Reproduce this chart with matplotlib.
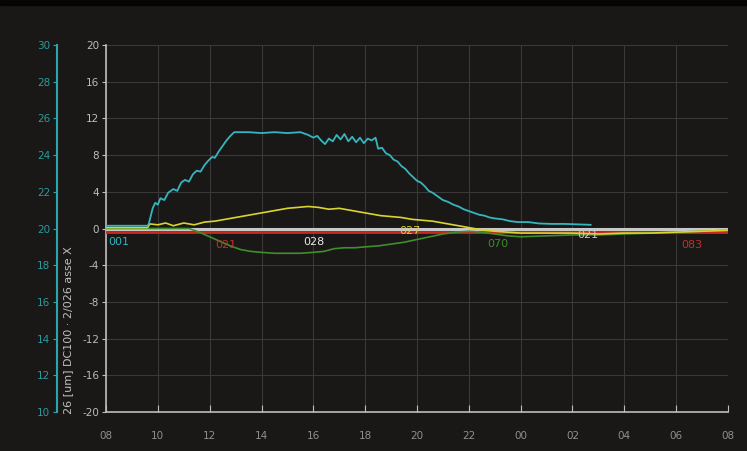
import matplotlib
matplotlib.use("Agg")
import matplotlib.pyplot as plt

plt.rcParams["axes.unicode_minus"] = False

# hours from 08:00
tick_labels = ["08", "10", "12", "14", "16", "18", "20", "22", "00", "02", "04", "06", "08"]
y_ticks = [-20, -16, -12, -8, -4, 0, 4, 8, 12, 16, 20]
sec_ticks = [10, 12, 14, 16, 18, 20, 22, 24, 26, 28, 30]

cyan_t = [0, 1.6, 1.65, 1.8, 1.9, 2.0, 2.1, 2.25, 2.4, 2.6, 2.75, 2.9, 3.05, 3.2, 3.35,
          3.5, 3.65, 3.8, 3.95, 4.1, 4.2, 4.35, 4.5, 4.65, 4.8, 4.95, 5.5, 6.0, 6.5,
          7.0, 7.5, 7.8, 8.0, 8.15, 8.3, 8.45, 8.6, 8.75, 8.9, 9.05, 9.2, 9.35, 9.5,
          9.65, 9.8, 9.95, 10.1, 10.25, 10.4, 10.5, 10.65, 10.8, 10.95, 11.1, 11.25,
          11.4, 11.55, 11.7, 11.85, 12.0, 12.15, 12.3, 12.45, 12.6, 12.8, 13.0, 13.2,
          13.4, 13.6, 13.8, 14.0, 14.2, 14.4, 14.6, 14.8, 15.0, 15.3, 15.6, 15.9,
          16.3, 16.7, 17.2, 17.7, 18.2, 18.7]
cyan_v = [0.3, 0.3, 0.5, 2.2, 2.8, 2.6, 3.3, 3.1, 3.9, 4.3, 4.1, 5.0, 5.3, 5.1, 5.9,
          6.3, 6.2, 6.9, 7.4, 7.8, 7.7, 8.4, 9.0, 9.6, 10.1, 10.5, 10.5, 10.4, 10.5,
          10.4, 10.5, 10.2, 9.9, 10.1, 9.6, 9.2, 9.8, 9.5, 10.2, 9.7, 10.3, 9.5, 10.0,
          9.4, 9.9, 9.3, 9.8, 9.6, 9.9, 8.7, 8.8, 8.2, 8.0, 7.5, 7.3,
          6.8, 6.5, 6.0, 5.6, 5.2, 5.0, 4.6, 4.1, 3.9, 3.5, 3.1, 2.9,
          2.6, 2.4, 2.1, 1.9, 1.7, 1.5, 1.4, 1.2, 1.1, 1.0, 0.8, 0.7,
          0.7, 0.55, 0.5, 0.5, 0.45, 0.4]

yellow_t = [0, 1.6, 1.7, 2.0, 2.3, 2.6, 3.0, 3.4, 3.8, 4.2, 4.6, 5.0, 5.4, 5.8, 6.2,
            6.6, 7.0, 7.4, 7.8, 8.2, 8.6, 9.0, 9.4, 9.8, 10.2, 10.6, 11.0, 11.4, 11.8,
            12.2, 12.6, 13.0, 13.4, 13.8, 14.2, 14.6, 15.0, 15.5, 16.0, 17.0, 18.0,
            19.0, 20.0, 21.0, 22.0, 23.0, 24.0]
yellow_v = [0.1, 0.1, 0.5, 0.4, 0.6, 0.3, 0.6, 0.4, 0.7, 0.8, 1.0, 1.2, 1.4, 1.6, 1.8,
            2.0, 2.2, 2.3, 2.4, 2.3, 2.1, 2.2, 2.0, 1.8, 1.6, 1.4, 1.3, 1.2, 1.0,
            0.9, 0.8, 0.6, 0.4, 0.2, 0.0, -0.2, -0.3, -0.4, -0.5, -0.5, -0.5,
            -0.6, -0.5, -0.5, -0.4, -0.3, -0.2]

green_t = [0, 3.2, 3.6, 4.0, 4.4, 4.8, 5.2, 5.6, 6.0, 6.5, 7.0, 7.5, 8.0, 8.4, 8.8,
           9.2, 9.6, 10.0, 10.5, 11.0, 11.5, 12.0, 12.5, 13.0, 13.5, 14.0, 14.5, 15.0,
           15.5, 16.0, 17.0, 18.0, 19.0, 20.0, 21.0, 22.0, 23.0, 24.0]
green_v = [0.0, 0.0, -0.4, -0.9, -1.4, -1.9, -2.3, -2.5, -2.6, -2.7, -2.7, -2.7, -2.6,
           -2.5, -2.2, -2.1, -2.1, -2.0, -1.9, -1.7, -1.5, -1.2, -0.9, -0.6, -0.4, -0.3,
           -0.4, -0.6, -0.8, -0.9, -0.8, -0.7, -0.7, -0.6, -0.5, -0.4, -0.3, -0.2]

red_t = [0, 24]
red_v = [-0.35, -0.35]
white_t = [0, 24]
white_v = [0.0, 0.0]

# curve tags: (text, t, value, colour)
tags = [("001", 0.1, -0.9, "#2fb3bd"), ("021", 4.2, -1.2, "#c0302a"),
        ("028", 7.6, -0.9, "#e8e8e8"), ("027", 11.3, 0.3, "#d8d030"),
        ("070", 14.7, -1.1, "#3c8a2c"), ("021", 18.2, -0.2, "#b8d0d0"),
        ("083", 22.2, -1.3, "#c0302a")]

bg = "#1a1817"
fig = plt.figure(figsize=(7.47, 4.51), dpi=100, facecolor=bg)
fig.patches.append(plt.Rectangle((0, 1 - 5 / 451), 1, 5 / 451, transform=fig.transFigure,
                                 color="#050505", zorder=0))
ax = fig.add_axes([106 / 747, 1 - 412 / 451, 622 / 747, 367 / 451], facecolor=bg)

ax.plot(white_t, white_v, color="#c8c8c8", lw=2.2, zorder=2)
ax.plot(red_t, red_v, color="#c8281e", lw=2.0, zorder=3)
ax.plot(green_t, green_v, color="#3e8e2a", lw=1.2, zorder=4)
ax.plot(yellow_t, yellow_v, color="#d9d42e", lw=1.2, zorder=5)
ax.plot(cyan_t, cyan_v, color="#35b5be", lw=1.3, zorder=6)

for txt, t, v, c in tags:
    ax.text(t, v, txt, color=c, fontsize=8, ha="left", va="top", zorder=7)

ax.set_xlim(0, 24)
ax.set_ylim(-20, 20)
ax.set_xticks(range(0, 25, 2))
ax.set_xticklabels(tick_labels)
ax.set_yticks(y_ticks)
ax.grid(True, color="#3a3838", lw=0.8)
ax.tick_params(axis="x", colors="#bdbdbd", labelcolor="#8f8f8f", labelsize=7.5,
               direction="in", length=5, pad=14)
ax.tick_params(axis="y", colors="#bdbdbd", labelcolor="#bcbcbc", labelsize=7.5,
               direction="out", length=3, pad=2)
for s in ["top", "right"]:
    ax.spines[s].set_visible(False)
for s in ["left", "bottom"]:
    ax.spines[s].set_color("#bdbdbd")
    ax.spines[s].set_linewidth(1.2)

sec = ax.secondary_yaxis((57 - 106) / 622, functions=(lambda y: 20 + y / 2, lambda c: (c - 20) * 2))
sec.set_yticks(sec_ticks)
sec.tick_params(colors="#2aa5ad", labelcolor="#2a9a9e", labelsize=7.5, length=3, pad=2)
sec.spines["left"].set_color("#2aa5ad")
sec.spines["left"].set_linewidth(1.5)

fig.text(68 / 747, 1 - 330 / 451, "26 [um] DC100 · 2/026 asse X", rotation=90,
         color="#c0c0c0", fontsize=8, ha="center", va="center")

fig.savefig("out.png", dpi=100, facecolor=bg)
